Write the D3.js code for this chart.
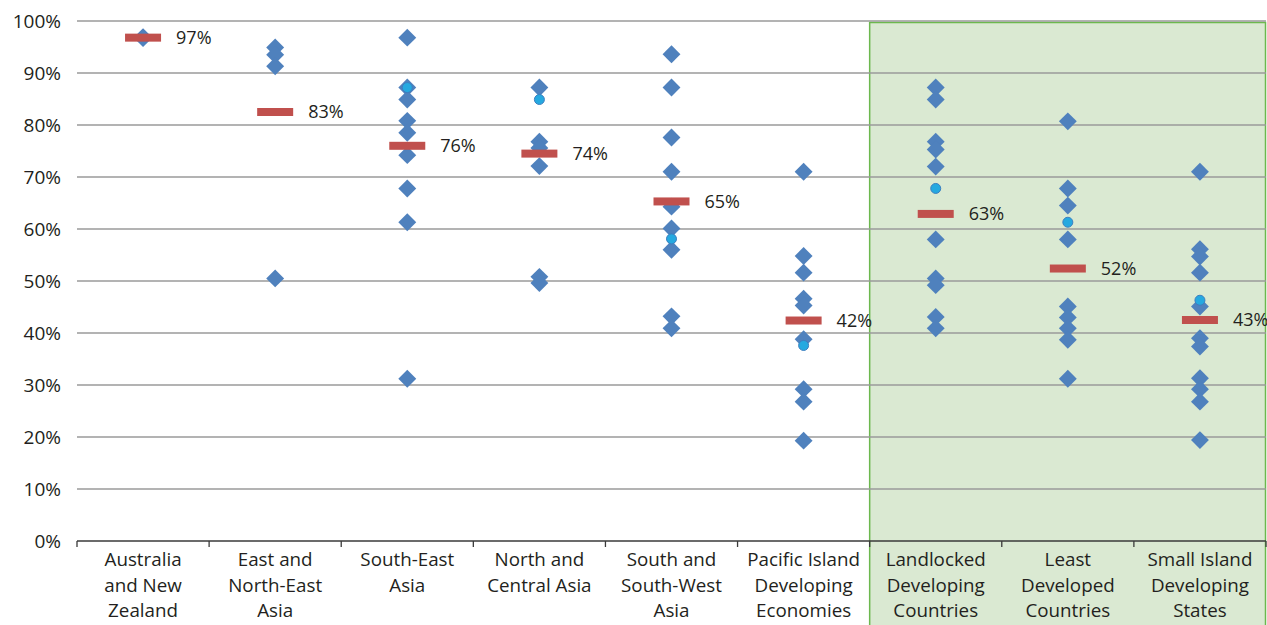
<!DOCTYPE html>
<html>
<head>
<meta charset="utf-8">
<script src="https://cdn.jsdelivr.net/npm/d3@7"></script>
<style>
  body { margin: 0; background: #fff; }
  text { font-family: "Open Sans", "Noto Sans", sans-serif; fill: #231f20; }
</style>
</head>
<body>
<div id="chart"></div>
<script>
// Category labels (one entry per line of the label)
var categories = [
  ["Australia", "and New", "Zealand"],
  ["East and", "North-East", "Asia"],
  ["South-East", "Asia"],
  ["North and", "Central Asia"],
  ["South and", "South-West", "Asia"],
  ["Pacific Island", "Developing", "Economies"],
  ["Landlocked", "Developing", "Countries"],
  ["Least", "Developed", "Countries"],
  ["Small Island", "Developing", "States"]
];

// Country values (diamonds), in percent
var countryValues = [
  [96.9, 96.7],
  [94.9, 93.5, 91.3, 50.5],
  [96.8, 87.2, 84.9, 80.8, 78.5, 74.2, 67.8, 61.3, 31.2],
  [87.2, 76.8, 75.6, 72.1, 50.8, 49.6],
  [93.6, 87.2, 77.6, 71.0, 64.3, 60.1, 56.0, 43.2, 40.9],
  [71.0, 54.8, 51.6, 46.6, 45.3, 38.8, 29.2, 26.8, 19.3],
  [87.2, 84.9, 76.8, 75.3, 72.0, 58.0, 50.5, 49.2, 43.1, 40.9],
  [80.7, 67.8, 64.5, 58.0, 45.1, 43.0, 40.9, 38.7, 31.2],
  [71.0, 56.1, 54.7, 51.6, 45.1, 39.0, 37.4, 31.3, 29.2, 26.8, 19.4]
];

// Light blue circles (null where a group has none)
var circleValues = [null, null, 87.2, 84.9, 58.1, 37.6, 67.8, 61.3, 46.3];

// Group averages (red bars) and their labels
var meanValues = [96.8, 82.5, 76.0, 74.5, 65.3, 42.4, 62.9, 52.4, 42.5];
var meanLabels = ["97%", "83%", "76%", "74%", "65%", "42%", "63%", "52%", "43%"];

// Y ticks
var yTicks = [0, 10, 20, 30, 40, 50, 60, 70, 80, 90, 100];

// Groups drawn on the green panel
var shadedFrom = 6;

var svgWidth = 1267,
    svgHeight = 625,
    margin = { top: 21, right: 1, bottom: 84, left: 77 };

var width = svgWidth - margin.left - margin.right;
var height = svgHeight - margin.top - margin.bottom;

var svg = d3.select("#chart")
  .append("svg")
  .attr("width", svgWidth)
  .attr("height", svgHeight);

var chartGroup = svg.append("g")
  .attr("transform", `translate(${margin.left}, ${margin.top})`);

var xScale = d3.scaleBand()
  .domain(d3.range(categories.length))
  .range([0, width])
  .padding(0);

var yScale = d3.scaleLinear()
  .domain([0, 100])
  .range([height, 0]);

var center = i => xScale(i) + xScale.bandwidth() / 2;

// green panel behind the grouped country categories
chartGroup.append("rect")
  .attr("x", xScale(shadedFrom))
  .attr("y", 1.5)
  .attr("width", width - xScale(shadedFrom) - 0.5)
  .attr("height", svgHeight)
  .attr("fill", "#dae9d2")
  .attr("stroke", "#6cb84e")
  .attr("stroke-width", 1.5);

// gridlines
chartGroup.append("g")
  .selectAll("line")
  .data(yTicks.filter(d => d > 0))
  .enter()
  .append("line")
  .attr("x1", 0)
  .attr("x2", width)
  .attr("y1", d => yScale(d))
  .attr("y2", d => yScale(d))
  .attr("stroke", "#9a9a9a")
  .attr("stroke-width", 1.3);

// y axis labels
var leftAxis = d3.axisLeft(yScale)
  .tickValues(yTicks)
  .tickSize(0)
  .tickPadding(16)
  .tickFormat(d => d + "%");

var yAxis = chartGroup.append("g").call(leftAxis);
yAxis.select(".domain").remove();
yAxis.selectAll("text")
  .attr("font-size", "19px")
  .attr("font-family", null)
  .attr("fill", "#231f20");

// x axis: line plus ticks on the category boundaries
var xAxis = chartGroup.append("g")
  .attr("transform", `translate(0, ${height})`);

xAxis.append("line")
  .attr("x1", 0)
  .attr("x2", width)
  .attr("stroke", "#3a3a3a")
  .attr("stroke-width", 1.5);

xAxis.selectAll(".tick")
  .data(d3.range(categories.length + 1))
  .enter()
  .append("line")
  .attr("class", "tick")
  .attr("x1", d => d < categories.length ? xScale(d) : width)
  .attr("x2", d => d < categories.length ? xScale(d) : width)
  .attr("y1", 0)
  .attr("y2", 6)
  .attr("stroke", "#3a3a3a")
  .attr("stroke-width", 1.3);

var xLabels = xAxis.selectAll(".xlabel")
  .data(categories)
  .enter()
  .append("text")
  .attr("class", "xlabel")
  .attr("text-anchor", "middle")
  .attr("font-size", "18.8px")
  .attr("transform", (d, i) => `translate(${center(i)}, 25)`);

xLabels.selectAll("tspan")
  .data(d => d)
  .enter()
  .append("tspan")
  .attr("x", 0)
  .attr("y", (d, i) => i * 25.5)
  .text(d => d);

// diamonds
var points = [];
countryValues.forEach(function(vals, i) {
  vals.forEach(function(v) { points.push({ cat: i, value: v }); });
});

var diamond = d3.symbol().type(d3.symbolSquare).size(160);

chartGroup.append("g")
  .selectAll("path")
  .data(points)
  .enter()
  .append("path")
  .attr("d", diamond)
  .attr("transform", d => `translate(${center(d.cat)}, ${yScale(d.value)}) rotate(45)`)
  .attr("fill", "#4f81bd");

// light blue circles
chartGroup.append("g")
  .selectAll("circle")
  .data(circleValues.map((v, i) => ({ cat: i, value: v })).filter(d => d.value !== null))
  .enter()
  .append("circle")
  .attr("cx", d => center(d.cat))
  .attr("cy", d => yScale(d.value))
  .attr("r", 5)
  .attr("fill", "#25a9e0")
  .attr("stroke", "#3c7fc0")
  .attr("stroke-width", 1);

// average bars
chartGroup.append("g")
  .selectAll("rect")
  .data(meanValues)
  .enter()
  .append("rect")
  .attr("x", (d, i) => center(i) - 18)
  .attr("y", d => yScale(d) - 4)
  .attr("width", 36)
  .attr("height", 8)
  .attr("fill", "#c0504d");

// average labels
chartGroup.append("g")
  .selectAll("text")
  .data(meanValues)
  .enter()
  .append("text")
  .attr("x", (d, i) => center(i) + 33)
  .attr("y", d => yScale(d))
  .attr("dy", "0.35em")
  .attr("font-size", "18px")
  .text((d, i) => meanLabels[i]);
</script>
</body>
</html>
